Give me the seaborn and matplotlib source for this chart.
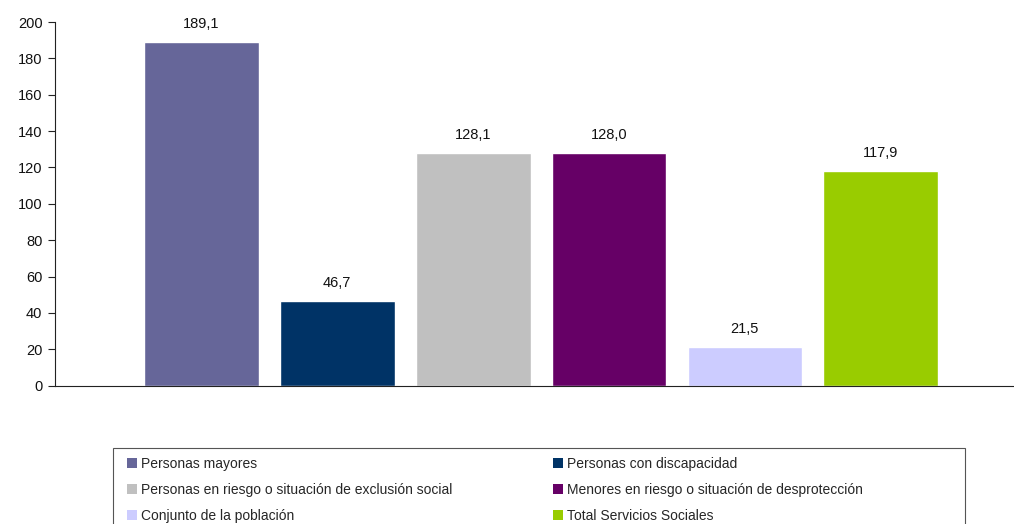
import matplotlib
matplotlib.use("Agg")
import matplotlib.pyplot as plt
import seaborn as sns
import pandas as pd
from matplotlib.patches import Patch, Rectangle

# Data
categories = [
    "Personas mayores",
    "Personas con discapacidad",
    "Personas en riesgo o situación de exclusión social",
    "Menores en riesgo o situación de desprotección",
    "Conjunto de la población",
    "Total Servicios Sociales",
]
values = [189.1, 46.7, 128.1, 128.0, 21.5, 117.9]
colors = ["#666699", "#003366", "#C0C0C0", "#660066", "#CCCCFF", "#99CC00"]
y_ticks = list(range(0, 201, 20))

df = pd.DataFrame({"grupo": categories, "valor": values})

sns.set_theme(style="white")
plt.rcParams["font.family"] = ["Liberation Sans", "DejaVu Sans"]

fig = plt.figure(figsize=(10.14, 5.24), dpi=100)
ax = fig.add_axes([0.0542, 0.264, 0.9458, 0.694])

sns.barplot(data=df, x="grupo", y="valor", hue="grupo", palette=colors,
            dodge=False, legend=False, width=0.845, saturation=1, ax=ax)

ax.set_xlim(-1.077, 5.98)
ax.set_ylim(0, 200)
ax.set_yticks(y_ticks)
ax.set_xticks([])
ax.set_xlabel("")
ax.set_ylabel("")
ax.tick_params(axis="y", which="both", left=True, length=5, width=0.8,
               color="#222222", labelsize=10.5, pad=4, labelcolor="#111111")
for side in ["top", "right"]:
    ax.spines[side].set_visible(False)
ax.spines["left"].set_color("#222222")
ax.spines["bottom"].set_color("#222222")
ax.spines["left"].set_linewidth(0.8)
ax.spines["bottom"].set_linewidth(0.8)

# Value labels above the bars
for i, v in enumerate(values):
    ax.text(i, v + 6, f"{v:.1f}".replace(".", ","), ha="center", va="bottom",
            fontsize=10.5, color="#111111")

# Legend: two columns filled row by row, boxed frame drawn separately
order = [0, 2, 4, 1, 3, 5]
handles = [Patch(facecolor=colors[i], edgecolor="none") for i in order]
labels = [categories[i] for i in order]
fig.legend(handles, labels, ncol=2, loc="upper left",
           bbox_to_anchor=(127 / 1014, 1 - 457 / 524),
           frameon=False, fontsize=10,
           handlelength=0.72, handleheight=0.72, handletextpad=0.3,
           labelspacing=0.85, columnspacing=7.2, borderpad=0, borderaxespad=0)

frame = Rectangle((113 / 1014, -0.05), (965 - 113) / 1014, 0.05 + 1 - 448 / 524,
                  transform=fig.transFigure, facecolor="none",
                  edgecolor="#555555", linewidth=0.8)
fig.add_artist(frame)

fig.savefig("out.png", dpi=100)
